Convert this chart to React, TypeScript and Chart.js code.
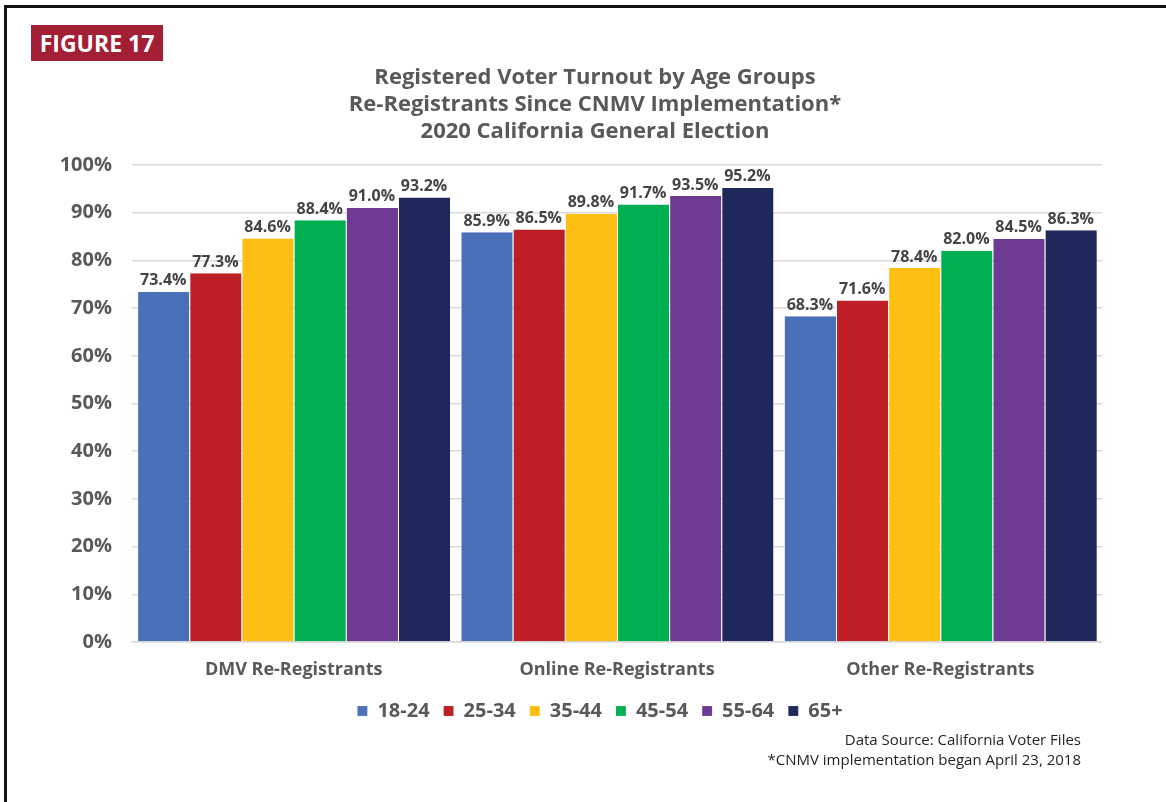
import React, { useEffect, useRef } from "react";
import { Chart, registerables } from "chart.js";

Chart.register(...registerables);

const categories = ["DMV Re-Registrants", "Online Re-Registrants", "Other Re-Registrants"];
const ageGroups = ["18-24", "25-34", "35-44", "45-54", "55-64", "65+"];
const turnout18to24 = [73.4, 85.9, 68.3];
const turnout25to34 = [77.3, 86.5, 71.6];
const turnout35to44 = [84.6, 89.8, 78.4];
const turnout45to54 = [88.4, 91.7, 82.0];
const turnout55to64 = [91.0, 93.5, 84.5];
const turnout65plus = [93.2, 95.2, 86.3];
const seriesColors = ["#4A71B7", "#BE1F27", "#FDBF13", "#00AF50", "#6F3A93", "#1F285A"];
const yTicks = [0, 10, 20, 30, 40, 50, 60, 70, 80, 90, 100];

const titleLines = [
  "Registered Voter Turnout by Age Groups",
  "Re-Registrants Since CNMV Implementation*",
  "2020 California General Election",
];
const noteLines = ["Data Source: California Voter Files", "*CNMV implementation began April 23, 2018"];

const FONT = "'Open Sans', 'Noto Sans', sans-serif";
const GREY = "#595959";

// Writes each bar's value just above its top edge.
const valueLabels = {
  id: "valueLabels",
  afterDatasetsDraw(chart: any) {
    const ctx = chart.ctx;
    ctx.save();
    ctx.font = `bold 16px ${FONT}`;
    ctx.fillStyle = "#444444";
    ctx.textAlign = "center";
    ctx.textBaseline = "bottom";
    chart.data.datasets.forEach((ds: any, i: number) => {
      const meta = chart.getDatasetMeta(i);
      meta.data.forEach((bar: any, j: number) => {
        const v = ds.data[j] as number;
        ctx.fillText(`${v.toFixed(1)}%`, bar.x, bar.y - 3);
      });
    });
    ctx.restore();
  },
};

// Centres the legend row under the plot area instead of the whole canvas.
const legendUnderPlot = {
  id: "legendUnderPlot",
  afterLayout(chart: any) {
    if (chart.legend) {
      chart.legend.left = chart.chartArea.left - 34;
      chart.legend.right = chart.chartArea.right;
    }
  },
};

export default function App() {
  const canvasRef = useRef<HTMLCanvasElement | null>(null);

  useEffect(() => {
    const canvas = canvasRef.current;
    if (!canvas) return;
    const series = [turnout18to24, turnout25to34, turnout35to44, turnout45to54, turnout55to64, turnout65plus];
    const chart = new Chart(canvas, {
      type: "bar",
      data: {
        labels: categories,
        datasets: ageGroups.map((g, i) => ({
          label: g,
          data: series[i],
          backgroundColor: seriesColors[i],
          borderColor: "rgba(255,255,255,0.55)",
          borderWidth: { left: 1, right: 0, top: 0, bottom: 0 },
          borderSkipped: false,
          categoryPercentage: 0.968,
          barPercentage: 1,
        })),
      },
      options: {
        responsive: false,
        animation: false,
        devicePixelRatio: 1,
        layout: { padding: { left: 8, right: 64, top: 165, bottom: 71 } },
        plugins: {
          title: { display: false },
          tooltip: { enabled: false },
          legend: {
            position: "bottom",
            labels: {
              boxWidth: 10,
              boxHeight: 10,
              padding: 14,
              color: GREY,
              font: { family: FONT, size: 20, weight: "bold" },
            },
          },
        },
        scales: {
          x: {
            grid: { display: false },
            border: { display: true, color: "#d9d9d9", width: 1.5 },
            ticks: {
              color: GREY,
              padding: 9,
              font: { family: FONT, size: 18, weight: "bold" },
            },
            afterFit: (scale: any) => {
              scale.height = 45;
            },
          },
          y: {
            min: 0,
            max: 100,
            afterBuildTicks: (scale: any) => {
              scale.ticks = yTicks.map((v) => ({ value: v }));
            },
            grid: { color: "#d9d9d9", lineWidth: 1.5, drawTicks: false },
            border: { display: false },
            ticks: {
              color: GREY,
              padding: 20,
              font: { family: FONT, size: 20, weight: "bold" },
              callback: (v: any) => `${v}%`,
            },
            afterFit: (scale: any) => {
              scale.width = 124;
            },
          },
        },
      },
      plugins: [valueLabels, legendUnderPlot],
    });
    return () => chart.destroy();
  }, []);

  return (
    <div style={{ position: "absolute", left: 0, top: 0, width: 1166, height: 802, background: "#fff", overflow: "hidden" }}>
      <div
        style={{
          position: "absolute",
          left: 4,
          top: 5,
          width: 1170,
          height: 810,
          borderLeft: "3px solid #111",
          borderTop: "3px solid #111",
        }}
      />
      <div
        style={{
          position: "absolute",
          left: 31,
          top: 25,
          width: 132,
          height: 36,
          background: "#A31F36",
          color: "#fff",
          fontFamily: FONT,
          fontWeight: 700,
          fontSize: 23,
          lineHeight: "36px",
          textAlign: "center",
        }}
      >
        FIGURE 17
      </div>
      <canvas ref={canvasRef} width={1166} height={802} style={{ position: "absolute", left: 0, top: 0 }} />
      <div
        style={{
          position: "absolute",
          left: 245,
          top: 62,
          width: 700,
          textAlign: "center",
          fontFamily: FONT,
          fontWeight: 700,
          fontSize: 22,
          lineHeight: "27px",
          color: GREY,
        }}
      >
        {titleLines.map((t) => (
          <div key={t}>{t}</div>
        ))}
      </div>
      <div
        style={{
          position: "absolute",
          right: 1166 - 1081,
          top: 729,
          textAlign: "right",
          fontFamily: FONT,
          fontSize: 15,
          lineHeight: "20px",
          color: "#231f20",
        }}
      >
        {noteLines.map((t) => (
          <div key={t}>{t}</div>
        ))}
      </div>
    </div>
  );
}
